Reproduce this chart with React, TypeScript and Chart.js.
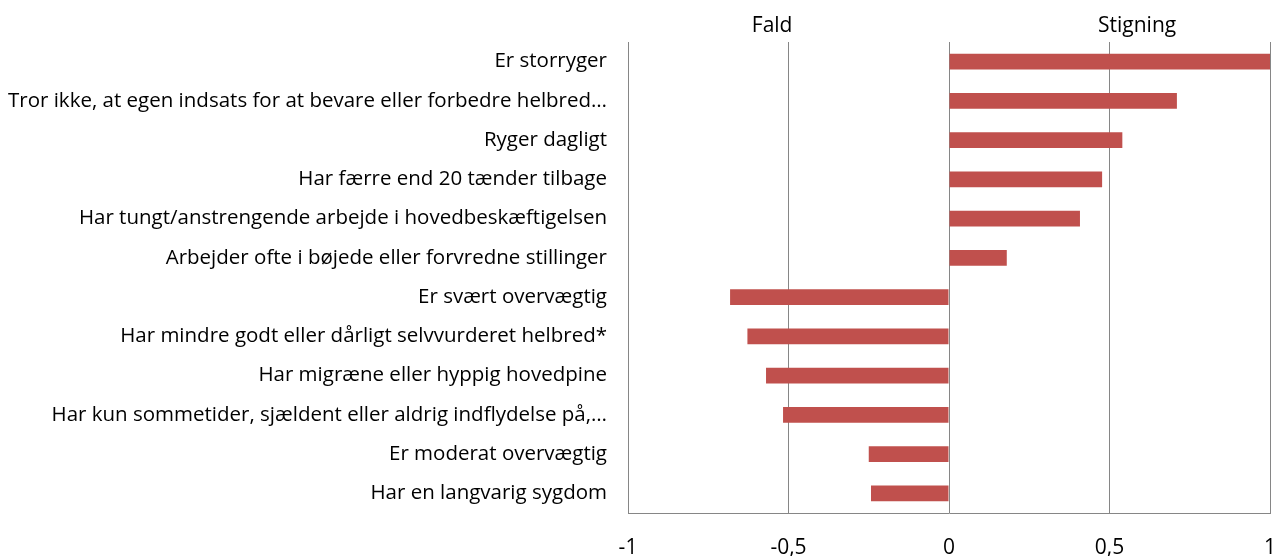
import React, { useEffect, useRef } from "react";
import { Chart, registerables } from "chart.js";

Chart.register(...registerables);

const categories = [
  "Er storryger",
  "Tror ikke, at egen indsats for at bevare eller forbedre helbred…",
  "Ryger dagligt",
  "Har færre end 20 tænder tilbage",
  "Har tungt/anstrengende arbejde i hovedbeskæftigelsen",
  "Arbejder ofte i bøjede eller forvredne stillinger",
  "Er svært overvægtig",
  "Har mindre godt eller dårligt selvvurderet helbred*",
  "Har migræne eller hyppig hovedpine",
  "Har kun sommetider, sjældent eller aldrig indflydelse på,…",
  "Er moderat overvægtig",
  "Har en langvarig sygdom",
];

const values = [1.0, 0.71, 0.54, 0.477, 0.408, 0.18, -0.682, -0.628, -0.57, -0.517, -0.25, -0.243];

const xTicks = [-1, -0.5, 0, 0.5, 1];

const topLabels = ["Fald", "Stigning"];
const topLabelPositions = [-0.551, 0.586];

const FONT = "'Open Sans', sans-serif";

export default function App() {
  const ref = useRef<HTMLCanvasElement | null>(null);

  useEffect(() => {
    if (!ref.current) return;
    const chart = new Chart(ref.current, {
      type: "bar",
      data: {
        labels: categories,
        datasets: [
          {
            data: values,
            backgroundColor: "#C0504D",
            borderWidth: 0,
            barPercentage: 0.4,
            categoryPercentage: 1,
          },
        ],
      },
      options: {
        indexAxis: "y",
        animation: false,
        responsive: true,
        maintainAspectRatio: false,
        layout: { padding: { top: 0, bottom: 0, left: 0, right: 14 } },
        plugins: {
          legend: { display: false },
          tooltip: { enabled: false },
        },
        scales: {
          x: {
            type: "linear",
            position: "bottom",
            min: -1,
            max: 1,
            afterBuildTicks: (axis: any) => {
              axis.ticks = xTicks.map((v) => ({ value: v }));
            },
            afterFit: (axis: any) => {
              axis.height = 43;
              axis.paddingLeft = 0;
              axis.paddingRight = 0;
            },
            ticks: {
              color: "#000",
              font: { family: FONT, size: 21 },
              padding: 22,
              callback: (v: any) => String(v).replace(".", ","),
            },
            grid: { color: "#868686", lineWidth: 1, drawTicks: false },
            border: { display: true, color: "#868686", width: 1 },
          },
          x2: {
            type: "linear",
            position: "top",
            min: -1,
            max: 1,
            afterBuildTicks: (axis: any) => {
              axis.ticks = topLabelPositions.map((v) => ({ value: v }));
            },
            afterFit: (axis: any) => {
              axis.height = 42;
              axis.paddingLeft = 0;
              axis.paddingRight = 0;
            },
            ticks: {
              color: "#000",
              font: { family: FONT, size: 21 },
              padding: 3,
              autoSkip: false,
              maxRotation: 0,
              callback: (_v: any, i: number) => topLabels[i],
            },
            grid: { display: false, drawTicks: false },
            border: { display: false },
          },
          y: {
            type: "category",
            afterFit: (axis: any) => {
              axis.width = 628;
            },
            ticks: {
              color: "#000",
              font: { family: FONT, size: 20.5 },
              padding: 21,
              autoSkip: false,
            },
            grid: { display: false, drawTicks: false },
            border: { display: false },
          },
        },
      },
    } as any);
    return () => chart.destroy();
  }, []);

  return (
    <div style={{ position: "fixed", left: 0, top: 0, width: 1284, height: 556, background: "#fff" }}>
      <canvas ref={ref} />
    </div>
  );
}
